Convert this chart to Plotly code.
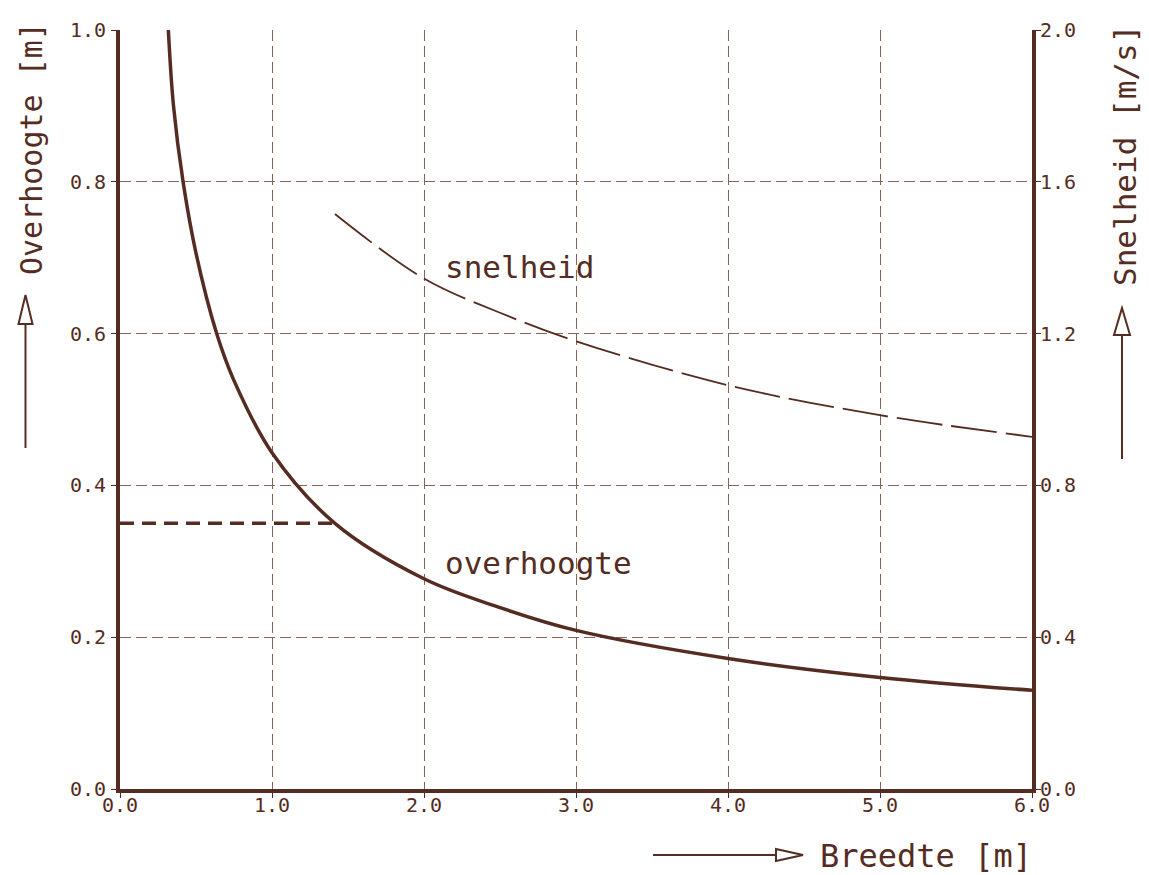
import plotly.graph_objects as go

# Breedte (m) and overhoogte (m)
breedte_h = [0.318, 0.352, 0.415, 0.50, 0.636, 0.75, 1.0, 1.414, 2.0, 2.5, 3.0, 4.0, 5.0, 6.0]
overhoogte = [1.0, 0.90, 0.80, 0.706, 0.60, 0.538, 0.443, 0.350, 0.277, 0.239, 0.209, 0.172, 0.147, 0.130]

# Breedte (m) and snelheid (m/s)
breedte_v = [1.414, 2.0, 2.5, 3.0, 4.0, 5.0, 6.0]
snelheid = [1.515, 1.345, 1.255, 1.18, 1.064, 0.985, 0.928]

ref_breedte = [0.0, 1.414]
ref_overhoogte = [0.35, 0.35]

x_ticks = [0, 1, 2, 3, 4, 5, 6]
x_labels = ["0.0", "1.0", "2.0", "3.0", "4.0", "5.0", "6.0"]
y_ticks = [0, 0.2, 0.4, 0.6, 0.8, 1.0]
y_labels = ["0.0", "0.2", "0.4", "0.6", "0.8", "1.0"]
y2_ticks = [0, 0.4, 0.8, 1.2, 1.6, 2.0]
y2_labels = ["0.0", "0.4", "0.8", "1.2", "1.6", "2.0"]

INK = "rgb(84,44,34)"
GRID = "rgb(135,100,90)"
FONT = "DejaVu Sans Mono"

W, H = 1149, 875
L, R, T, B = 120, 1032, 30, 789


def px(x):
    return (x - L) / (R - L)


def py(y):
    return (B - y) / (B - T)


fig = go.Figure()

fig.add_trace(go.Scatter(
    x=breedte_h, y=overhoogte, mode="lines", line_shape="spline",
    line=dict(color=INK, width=3.5), hoverinfo="skip", showlegend=False,
))
fig.add_trace(go.Scatter(
    x=ref_breedte, y=ref_overhoogte, mode="lines",
    line=dict(color=INK, width=3.5, dash="14px,8px"), hoverinfo="skip", showlegend=False,
))
fig.add_trace(go.Scatter(
    x=breedte_v, y=snelheid, mode="lines", line_shape="spline", yaxis="y2",
    line=dict(color=INK, width=1.8, dash="46px,9px"), hoverinfo="skip", showlegend=False,
))

axis_common = dict(
    showgrid=True, gridcolor=GRID, gridwidth=1, griddash="11px,5px",
    zeroline=False, ticks="outside", ticklen=5, tickwidth=1, tickcolor=INK,
    tickfont=dict(family=FONT, size=20, color=INK),
    linecolor=INK, linewidth=4,
)

fig.update_layout(
    width=W, height=H,
    margin=dict(l=L, r=W - R, t=T, b=H - B),
    paper_bgcolor="white", plot_bgcolor="white",
    xaxis=dict(range=[0, 6], tickvals=x_ticks, ticktext=x_labels, showline=True,
               ticklabelstandoff=-10, **axis_common),
    yaxis=dict(range=[0, 1.0], tickvals=y_ticks, ticktext=y_labels, showline=True,
               ticklabelstandoff=1, **axis_common),
    yaxis2=dict(range=[0, 2.0], tickvals=y2_ticks, ticktext=y2_labels, overlaying="y",
                side="right", showline=True, ticklabelstandoff=-5,
                **{**axis_common, "showgrid": False}),
)

# Curve labels
fig.add_annotation(x=2.63, y=0.688, text="snelheid", showarrow=False,
                   xanchor="center", yanchor="middle",
                   font=dict(family=FONT, size=31, color=INK))
fig.add_annotation(x=2.75, y=0.298, text="overhoogte", showarrow=False,
                   xanchor="center", yanchor="middle",
                   font=dict(family=FONT, size=31, color=INK))

# Axis titles
fig.add_annotation(xref="paper", yref="paper", x=px(31), y=py(149), text="Overhoogte [m]",
                   textangle=-90, showarrow=False, xanchor="center", yanchor="middle",
                   font=dict(family=FONT, size=30, color=INK))
fig.add_annotation(xref="paper", yref="paper", x=px(1125), y=py(156), text="Snelheid [m/s]",
                   textangle=-90, showarrow=False, xanchor="center", yanchor="middle",
                   font=dict(family=FONT, size=31, color=INK))
fig.add_annotation(xref="paper", yref="paper", x=px(926), y=py(856), text="Breedte [m]",
                   showarrow=False, xanchor="center", yanchor="middle",
                   font=dict(family=FONT, size=32, color=INK))

# Open-headed arrows next to the axis titles
def arrow_up(xc, y_tail, y_base, y_tip, half):
    fig.add_shape(type="line", xref="paper", yref="paper",
                  x0=px(xc), y0=py(y_tail), x1=px(xc), y1=py(y_base),
                  line=dict(color=INK, width=2))
    path = (f"M {px(xc - half)} {py(y_base)} L {px(xc)} {py(y_tip)} "
            f"L {px(xc + half)} {py(y_base)} Z")
    fig.add_shape(type="path", xref="paper", yref="paper", path=path,
                  line=dict(color=INK, width=2), fillcolor="rgba(0,0,0,0)")


arrow_up(25.5, 448, 324, 295, 7)
arrow_up(1122, 459, 335, 308, 8)

fig.add_shape(type="line", xref="paper", yref="paper",
              x0=px(653), y0=py(855), x1=px(776), y1=py(855),
              line=dict(color=INK, width=2))
fig.add_shape(type="path", xref="paper", yref="paper",
              path=f"M {px(776)} {py(849)} L {px(803)} {py(855)} L {px(776)} {py(861)} Z",
              line=dict(color=INK, width=2), fillcolor="rgba(0,0,0,0)")

fig.write_html("out.html")
